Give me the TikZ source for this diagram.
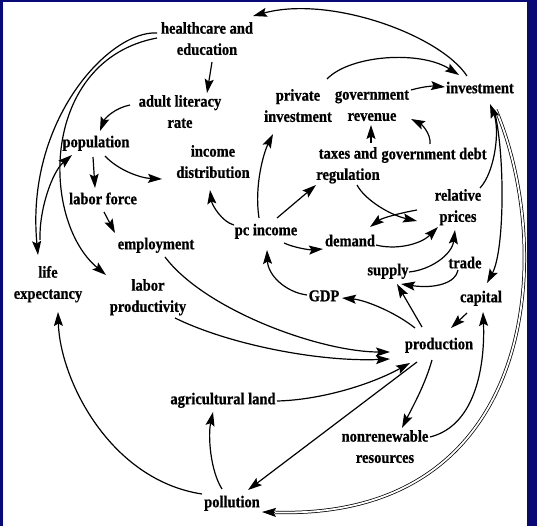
\documentclass[tikz,border=0pt]{standalone}
\usepackage{fontspec}
\setmainfont{Liberation Serif}[BoldFeatures={FakeBold=0.8}]
\usetikzlibrary{arrows.meta,calc}
\definecolor{frameblue}{RGB}{8,8,118}
% label text: centred lines, slightly tall letters
\newcommand{\lbl}[1]{\scalebox{1}[1.14]{\begin{tabular}{@{}c@{}}#1\end{tabular}}}

\begin{document}
\begin{tikzpicture}[x=1pt,y=-1pt,
  lab/.style={inner sep=0pt, font=\fontsize{14.5}{18.6}\selectfont\bfseries},
  link/.style={line width=1.2pt, -{Stealth[length=14pt,width=9pt,inset=2.5pt]}},
  dbl/.style={line width=0.75pt, double=white, double distance=1.8pt, shorten >=13pt}]

% frame
\fill[frameblue] (0,0) rectangle (537,526);
\fill[white] (3,2) rectangle (527,526);
\useasboundingbox (0,0) rectangle (537,526);

% variables
\node[lab] (hc)      at (207,40)  {\lbl{healthcare and\\education}};
\node[lab] (alr)     at (180,113) {\lbl{adult literacy\\rate}};
\node[lab] (pop)     at (96,143)  {\lbl{population}};
\node[lab] (incd)    at (213,163) {\lbl{income\\distribution}};
\node[lab] (privinv) at (298,107) {\lbl{private\\investment}};
\node[lab] (govrev)  at (372,106) {\lbl{government\\revenue}};
\node[lab] (inv)     at (480,89)  {\lbl{investment}};
\node[lab] (tax)     at (348,165) {\lbl{taxes and\\regulation}};
\node[lab] (debt)    at (434,155) {\lbl{government debt}};
\node[lab] (lf)      at (103,200) {\lbl{labor force}};
\node[lab] (relp)    at (458,207) {\lbl{relative\\prices}};
\node[lab] (emp)     at (156,245) {\lbl{employment}};
\node[lab] (pci)     at (266,231) {\lbl{pc income}};
\node[lab] (dem)     at (350,242) {\lbl{demand}};
\node[lab] (trade)   at (465,264) {\lbl{trade}};
\node[lab] (supply)  at (388,271) {\lbl{supply}};
\node[lab] (life)    at (48,284)  {\lbl{life\\expectancy}};
\node[lab] (lp)      at (148,297) {\lbl{labor\\productivity}};
\node[lab] (gdp)     at (324,297) {\lbl{GDP}};
\node[lab] (cap)     at (481,298) {\lbl{capital}};
\node[lab] (prod)    at (439,345) {\lbl{production}};
\node[lab] (agri)    at (223,400) {\lbl{agricultural land}};
\node[lab] (nonren)  at (385,448) {\lbl{nonrenewable\\resources}};
\node[lab] (poll)    at (232,503) {\lbl{pollution}};

% investment -> pollution (double line)
\draw[link] ($(inv)+(16,21)$) .. controls +(59,140) and +(278,8) .. ($(poll)+(30,9)$);
\draw[dbl]  ($(inv)+(16,21)$) .. controls +(59,140) and +(278,8) .. ($(poll)+(30,9)$);

% upper part
\draw[link] ($(inv)+(-13,-13)$) .. controls +(-27,-41) and +(77,-21) .. ($(hc)+(46,-24)$);
\draw[link] ($(privinv)+(29,-28)$) .. controls +(23,-24) and +(-39,-25) .. ($(inv)+(-21,-14)$);
\draw[link] ($(govrev)+(39,-16)$) .. controls +(14,-4) and +(-10,-1) .. ($(inv)+(-35,-2)$);
\draw[link] ($(debt)+(-4,-11)$) .. controls +(1,-11) and +(10,5) .. ($(govrev)+(39,13)$);
\draw[link] ($(tax)+(23,-22)$) -- ($(govrev)+(-1,19)$);
\draw[link] ($(pci)+(-7,-13)$) .. controls +(-5,-33) and +(-9,18) .. ($(privinv)+(-25,27)$);
\draw[link] ($(pci)+(11,-13)$) -- ($(tax)+(-32,20)$);
\draw[link] ($(pci)+(-32,-6)$) .. controls +(-12,-3) and +(2,15) .. ($(incd)+(-3,27)$);
\draw[link] ($(pci)+(18,12)$) .. controls +(11,5) and +(-13,1) .. ($(dem)+(-27,7)$);
\draw[link] ($(gdp)+(-17,-2)$) .. controls +(-22,-3) and +(1,25) .. ($(pci)+(1,19)$);
\draw[link] ($(prod)+(-24,-17)$) .. controls +(-20,-16) and +(23,2) .. ($(gdp)+(18,1)$);
\draw[link] ($(prod)+(-17,-18)$) -- ($(supply)+(9,13)$);
\draw[link] ($(trade)+(-7,6)$) .. controls +(-2,13) and +(34,5) .. ($(supply)+(13,13)$);
\draw[link] ($(supply)+(21,1)$) .. controls +(21,-2) and +(-3,25) .. ($(relp)+(-3,23)$);
\draw[link] ($(dem)+(26,3)$) .. controls +(19,5) and +(-18,18) .. ($(relp)+(-20,20)$);
\draw[link] ($(tax)+(9,20)$) .. controls +(8,15) and +(-27,-6) .. ($(relp)+(-41,14)$);
\draw[link] ($(relp)+(-41,3)$) .. controls +(-17,3) and +(12,-9) .. ($(dem)+(20,-15)$);
\draw[link] ($(relp)+(22,-19)$) .. controls +(15,-16) and +(10,26) .. ($(inv)+(10,15)$);
\draw[link] ($(inv)+(14,21)$) .. controls +(11,40) and +(18,-33) .. ($(cap)+(6,-15)$);

% production side
\draw[link] ($(nonren)+(45,-11)$) .. controls +(48,-12) and +(2,48) .. ($(cap)+(2,14)$);
\draw[link] ($(cap)+(-14,15)$) -- ($(prod)+(12,-17)$);
\draw[link] ($(prod)+(-7,15)$) .. controls +(-7,25) and +(10,-20) .. ($(nonren)+(17,-20)$);
\draw[link] ($(prod)+(-22,17)$) -- ($(poll)+(16,-13)$);
\draw[link] ($(agri)+(54,1)$) .. controls +(43,-1) and +(-40,22) .. ($(prod)+(-29,18)$);
\draw[link] ($(poll)+(-10,-14)$) .. controls +(-12,-19) and +(-5,23) .. ($(agri)+(-10,12)$);
\draw[link] ($(poll)+(-30,-9)$) .. controls +(-92,-14) and +(2,68) .. ($(life)+(10,28)$);
\draw[link] ($(emp)+(9,12)$) .. controls +(40,53) and +(-70,0) .. ($(prod)+(-49,7)$);
\draw[link] ($(lp)+(27,21)$) .. controls +(55,27) and +(-70,3) .. ($(prod)+(-49,14)$);

% left part
\draw[link] ($(hc)+(5,22)$) -- ($(alr)+(27,-20)$);
\draw[link] ($(alr)+(-50,-8)$) .. controls +(-15,3) and +(5,-13) .. ($(pop)+(4,-12)$);
\draw[link] ($(pop)+(9,13)$) .. controls +(13,14) and +(-22,-1) .. ($(incd)+(-51,16)$);
\draw[link] ($(pop)+(-3,14)$) -- ($(lf)+(-8,-12)$);
\draw[link] ($(lf)+(1,12)$) -- ($(emp)+(-41,-12)$);
\draw[link] ($(life)+(-8,-44)$) .. controls +(-1,-30) and +(-20,17) .. ($(pop)+(-24,12)$);
\draw[link] ($(hc)+(-50,-7)$) .. controls +(-47,-3) and +(-13,-135) .. ($(life)+(-10,-29)$);
\draw[link] ($(hc)+(-50,-2)$) .. controls +(-117,22) and +(-66,-55) .. ($(lp)+(-42,-22)$);
\end{tikzpicture}
\end{document}
